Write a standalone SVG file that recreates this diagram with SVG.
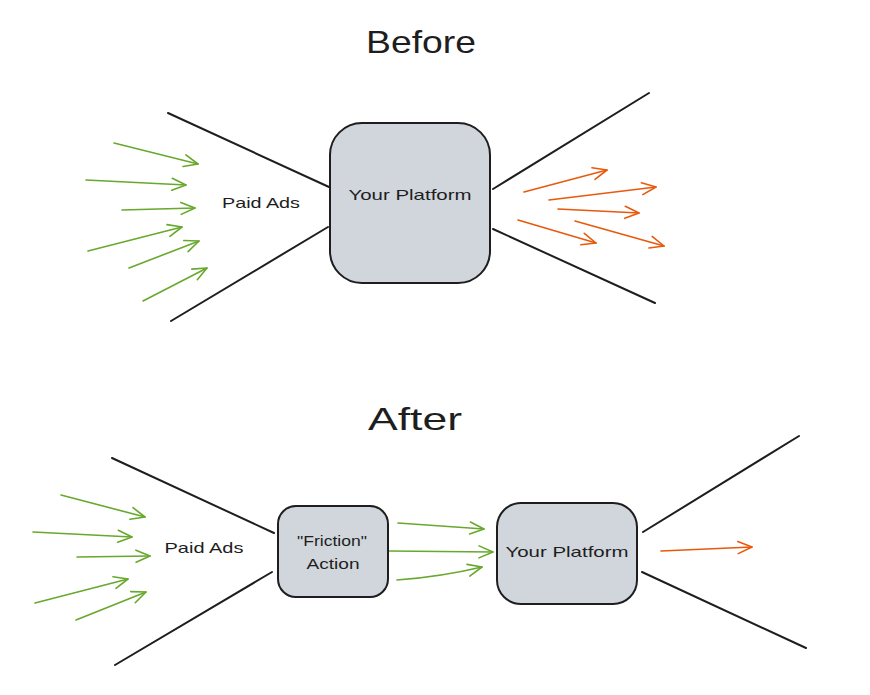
<svg xmlns="http://www.w3.org/2000/svg" width="870" height="695" viewBox="0 0 870 695">
<style>
.bg{fill:#ffffff}
.box{fill:#d1d6dd;stroke:#1e1e1e;stroke-width:2}
.funnel{stroke:#1e1e1e;stroke-width:2;stroke-linecap:round;fill:none}
.g{stroke:#68a82d;stroke-width:1.6;fill:none;stroke-linecap:round;marker-end:url(#ag)}
.o{stroke:#e8590c;stroke-width:1.6;fill:none;stroke-linecap:round;marker-end:url(#ao)}
.t{font-family:"Liberation Sans","DejaVu Sans",sans-serif;fill:#1e1e1e;text-anchor:middle}
.title{font-size:32px}
.lbl{font-size:15px}
</style>
<defs>
<marker id="ag" viewBox="-16 -8 18 16" markerWidth="18" markerHeight="16" refX="0" refY="0" orient="auto" markerUnits="userSpaceOnUse">
<path d="M-14,-6 L0,0 L-14,6" fill="none" stroke="#68a82d" stroke-width="1.6" stroke-linecap="round" stroke-linejoin="round"/>
</marker>
<marker id="ao" viewBox="-16 -8 18 16" markerWidth="18" markerHeight="16" refX="0" refY="0" orient="auto" markerUnits="userSpaceOnUse">
<path d="M-14,-6 L0,0 L-14,6" fill="none" stroke="#e8590c" stroke-width="1.6" stroke-linecap="round" stroke-linejoin="round"/>
</marker>
</defs>
<rect class="bg" x="0" y="0" width="870" height="695"/>
<text class="t title" x="421" y="53" textLength="110" lengthAdjust="spacingAndGlyphs">Before</text>
<text class="t title" x="415" y="430" textLength="94" lengthAdjust="spacingAndGlyphs">After</text>
<g id="connectors">
<path class="funnel" d="M168,113 L329,187"/>
<path class="funnel" d="M328,227 L171,321"/>
<path class="funnel" d="M493,189 L649,93"/>
<path class="funnel" d="M493,229 L655,303"/>
<path class="g" d="M114,143 L198,164"/>
<path class="g" d="M86,180 L186,185"/>
<path class="g" d="M122,210 L195,208"/>
<path class="g" d="M88,251 L182,227"/>
<path class="g" d="M129,268 L199,241"/>
<path class="g" d="M143,301 L207,268"/>
<path class="o" d="M524,192 L607,170"/>
<path class="o" d="M549,200 L656,187"/>
<path class="o" d="M558,209 L639,213"/>
<path class="o" d="M518,220 L596,243"/>
<path class="o" d="M575,221 L664,246"/>
<path class="funnel" d="M112,458 L274,533"/>
<path class="funnel" d="M272,572 L115,665"/>
<path class="funnel" d="M643,532 L799,436"/>
<path class="funnel" d="M642,572 L806,648"/>
<path class="g" d="M61,495 L145,517"/>
<path class="g" d="M33,532 L132,537"/>
<path class="g" d="M77,557 L150,556"/>
<path class="g" d="M35,603 L128,579"/>
<path class="g" d="M76,620 L146,592"/>
<path class="g" d="M398,523 L484,529"/>
<path class="g" d="M389,551 L493,552"/>
<path class="g" d="M397,580 Q440,577 482,567"/>
<path class="o" d="M661,551 L752,547"/>
</g>
<g id="paid-ads-before">
<text class="t lbl" x="261" y="208" textLength="78" lengthAdjust="spacingAndGlyphs">Paid Ads</text>
</g>
<g id="platform-before">
<rect class="box" x="330" y="123" width="160" height="160" rx="32"/>
<text class="t lbl" x="410" y="200" textLength="123" lengthAdjust="spacingAndGlyphs">Your Platform</text>
</g>
<g id="paid-ads-after">
<text class="t lbl" x="204" y="553" textLength="79" lengthAdjust="spacingAndGlyphs">Paid Ads</text>
</g>
<g id="friction-action">
<rect class="box" x="278" y="506" width="110" height="91" rx="18"/>
<text class="t lbl" x="332" y="546" textLength="70" lengthAdjust="spacingAndGlyphs">"Friction"</text>
<text class="t lbl" x="333" y="569" textLength="53" lengthAdjust="spacingAndGlyphs">Action</text>
</g>
<g id="platform-after">
<rect class="box" x="497" y="503" width="140" height="101" rx="24"/>
<text class="t lbl" x="567" y="557" textLength="123" lengthAdjust="spacingAndGlyphs">Your Platform</text>
</g>
</svg>
